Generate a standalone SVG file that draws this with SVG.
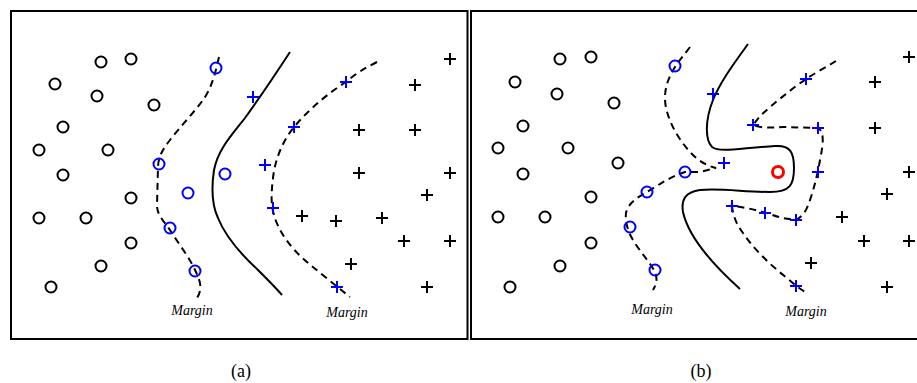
<svg xmlns="http://www.w3.org/2000/svg" xmlns:xlink="http://www.w3.org/1999/xlink" width="917" height="383" viewBox="0 0 917 383">
<style>
.frame{fill:none;stroke:#000;stroke-width:2}
.sol{fill:none;stroke:#000;stroke-width:2}
.dash{fill:none;stroke:#000;stroke-width:2;stroke-dasharray:7,5}
.oc{fill:none;stroke:#000;stroke-width:2}
.bc{fill:none;stroke:#0000ff;stroke-width:2}
.rc{fill:none;stroke:#ff0000;stroke-width:3}
.op{fill:none;stroke:#000;stroke-width:2}
.bp{fill:none;stroke:#0000ff;stroke-width:2}
.lbl{font-family:"Liberation Serif",serif;font-style:italic;font-size:14px;fill:#000;text-anchor:middle}
.cap{font-family:"Liberation Serif",serif;font-size:18px;fill:#000;text-anchor:middle}
</style>
<defs>
<circle id="c" r="5.5"/>
<path id="p" d="M-6,0H6M0,-6V6"/>
</defs>
<rect width="917" height="383" fill="#fff"/>
<g id="panel-a-frame"><rect class="frame" x="11" y="11" width="456.5" height="328"/></g>
<g id="panel-b-frame"><path class="frame" d="M918,11H471V339H918"/></g>

<g id="connectors">
<path class="dash" d="M219,57 C216,70 212,88 203,100 C196,110 180,127 170,140 C162,150 158,158 158,168 L157,205 C157,215 163,220 170,230 C178,243 190,258 196,272 C200,281 203,288 197,298"/>
<path class="dash" d="M377,62 C365,68 355,74 346,82 C330,92 310,108 294,127 C282,142 275,160 273,178 C271,195 271,205 274,215 C278,230 290,248 307,262 C320,273 335,285 350,297"/>
<path class="sol" d="M290,52 C275,75 258,100 245,118 C230,137 218,150 214,170 C211,190 212,205 218,218 C226,238 245,258 258,270 C268,280 276,288 282,295"/>
<path class="dash" d="M690,47 C684,55 678,62 675,67 C667,80 663,92 666,108 C670,125 680,142 693,155 C700,162 708,166 716,168 L700,172 C692,172 687,172 685,172 C672,176 660,184 647,192 C638,197 628,203 626,213 C625,222 628,232 633,240 C640,252 650,262 655,272 C658,280 656,285 653,290"/>
<path class="dash" d="M836,61 C826,67 815,73 806,79 C790,90 772,105 760,116 L753,125 C760,128 770,128 783,127 L818,128 C825,132 823,145 820,160 C818,172 815,185 810,200 C807,210 803,216 796,220 C788,219 780,218 770,214 C760,211 745,207 732,206 C733,215 736,224 743,233 C752,247 770,265 787,278 C795,285 800,289 807,293"/>
<path class="sol" d="M748,44 C735,62 720,82 713,100 C705,120 705,140 712,147 C720,153 740,148 775,146 C790,145 794,152 794,168 C794,185 790,192 770,192 C745,192 720,188 700,190 C685,192 681,200 683,212 C688,235 710,262 740,289"/>
</g>

<g id="a-circles" class="oc">
<use xlink:href="#c" x="101" y="62"/><use xlink:href="#c" x="131" y="59"/><use xlink:href="#c" x="55" y="84"/><use xlink:href="#c" x="97" y="96"/><use xlink:href="#c" x="154" y="105"/><use xlink:href="#c" x="63" y="127"/><use xlink:href="#c" x="39" y="150"/><use xlink:href="#c" x="108" y="150"/><use xlink:href="#c" x="63" y="175"/><use xlink:href="#c" x="131" y="198"/><use xlink:href="#c" x="39" y="218"/><use xlink:href="#c" x="86" y="218"/><use xlink:href="#c" x="131" y="243"/><use xlink:href="#c" x="101" y="266"/><use xlink:href="#c" x="51" y="287"/>
</g>
<g id="a-support-circles" class="bc">
<use xlink:href="#c" x="216" y="68"/><use xlink:href="#c" x="159" y="164"/><use xlink:href="#c" x="225" y="174"/><use xlink:href="#c" x="188" y="193"/><use xlink:href="#c" x="170" y="228"/><use xlink:href="#c" x="195" y="271"/>
</g>
<g id="a-pluses" class="op">
<use xlink:href="#p" x="450" y="59"/><use xlink:href="#p" x="415" y="85"/><use xlink:href="#p" x="359" y="130"/><use xlink:href="#p" x="415" y="130"/><use xlink:href="#p" x="359" y="173"/><use xlink:href="#p" x="450" y="173"/><use xlink:href="#p" x="427" y="195"/><use xlink:href="#p" x="302" y="216"/><use xlink:href="#p" x="336" y="221"/><use xlink:href="#p" x="382" y="218"/><use xlink:href="#p" x="404" y="241"/><use xlink:href="#p" x="450" y="241"/><use xlink:href="#p" x="351" y="264"/><use xlink:href="#p" x="427" y="287"/>
</g>
<g id="a-support-pluses" class="bp">
<use xlink:href="#p" x="253" y="97"/><use xlink:href="#p" x="294" y="127"/><use xlink:href="#p" x="346" y="82"/><use xlink:href="#p" x="265" y="165"/><use xlink:href="#p" x="273" y="208"/><use xlink:href="#p" x="337" y="287"/>
</g>

<g id="b-circles" class="oc">
<use xlink:href="#c" x="560" y="59"/><use xlink:href="#c" x="591" y="57"/><use xlink:href="#c" x="515" y="82"/><use xlink:href="#c" x="557" y="94"/><use xlink:href="#c" x="614" y="103"/><use xlink:href="#c" x="523" y="126"/><use xlink:href="#c" x="498" y="148"/><use xlink:href="#c" x="568" y="148"/><use xlink:href="#c" x="618" y="163"/><use xlink:href="#c" x="523" y="174"/><use xlink:href="#c" x="591" y="197"/><use xlink:href="#c" x="498" y="217"/><use xlink:href="#c" x="545" y="217"/><use xlink:href="#c" x="591" y="243"/><use xlink:href="#c" x="560" y="266"/><use xlink:href="#c" x="510" y="287"/>
</g>
<g id="b-support-circles" class="bc">
<use xlink:href="#c" x="675" y="66"/><use xlink:href="#c" x="685" y="172"/><use xlink:href="#c" x="647" y="192"/><use xlink:href="#c" x="630" y="227"/><use xlink:href="#c" x="655" y="270"/>
</g>
<g id="b-outlier" class="rc"><use xlink:href="#c" x="778" y="172"/></g>
<g id="b-pluses" class="op">
<use xlink:href="#p" x="909" y="57"/><use xlink:href="#p" x="875" y="82"/><use xlink:href="#p" x="875" y="128"/><use xlink:href="#p" x="909" y="172"/><use xlink:href="#p" x="887" y="194"/><use xlink:href="#p" x="842" y="217"/><use xlink:href="#p" x="864" y="241"/><use xlink:href="#p" x="909" y="241"/><use xlink:href="#p" x="811" y="263"/><use xlink:href="#p" x="887" y="287"/>
</g>
<g id="b-support-pluses" class="bp">
<use xlink:href="#p" x="713" y="94"/><use xlink:href="#p" x="806" y="79"/><use xlink:href="#p" x="753" y="125"/><use xlink:href="#p" x="818" y="128"/><use xlink:href="#p" x="724" y="163"/><use xlink:href="#p" x="818" y="172"/><use xlink:href="#p" x="732" y="206"/><use xlink:href="#p" x="765" y="213"/><use xlink:href="#p" x="796" y="220"/><use xlink:href="#p" x="796" y="286"/>
</g>

<g id="labels">
<text class="lbl" x="192" y="315">Margin</text>
<text class="lbl" x="347" y="317">Margin</text>
<text class="lbl" x="652" y="314">Margin</text>
<text class="lbl" x="806" y="316">Margin</text>
<text class="cap" x="241" y="377">(a)</text>
<text class="cap" x="701" y="377">(b)</text>
</g>
</svg>
